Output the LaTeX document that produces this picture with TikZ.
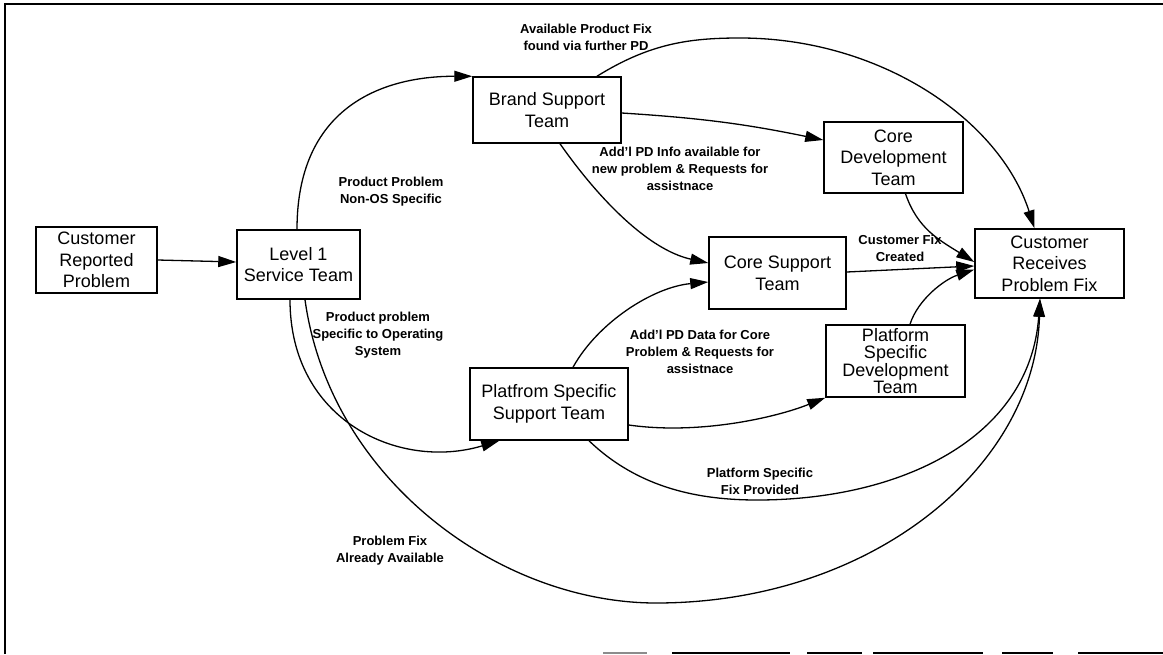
\documentclass[tikz,border=0pt]{standalone}
\usepackage{fontspec}
\setmainfont{Liberation Sans}
\usetikzlibrary{arrows.meta}
\tikzset{
  box/.style={draw, line width=1.5pt, align=center, inner sep=0pt,
    font=\fontsize{18}{21.7}\selectfont},
  lab/.style={align=center, inner sep=0pt,
    font=\bfseries\fontsize{13}{16.8}\selectfont},
  conn/.style={line width=1.3pt, -{Triangle[length=18pt,width=11pt]}},
  frameline/.style={line width=1.6pt},
}
\begin{document}
\begin{tikzpicture}[x=1pt,y=-1pt]
\useasboundingbox (0,0) rectangle (1163,654);
% frame
\draw[frameline] (5,654) -- (5,4) -- (1163,4);
\draw[line width=1.2pt, black!45] (603,653) -- (647,653);
\draw[line width=1.4pt] (672,653) -- (790,653) (807,653) -- (862,653)
  (873,653) -- (983,653) (1002,653) -- (1053,653) (1078,653) -- (1163,653);

% nodes
\node[box, minimum width=121pt, minimum height=66pt] (crp) at (96.5,260) {Customer\\Reported\\Problem};
\node[box, minimum width=123pt, minimum height=69pt] (l1) at (298.5,264.5) {Level 1\\Service Team};
\node[box, minimum width=148pt, minimum height=66pt] (brand) at (547,110) {Brand Support\\Team};
\node[box, minimum width=139pt, minimum height=71pt] (coredev) at (893.5,157.5) {Core\\Development\\Team};
\node[box, minimum width=137pt, minimum height=72pt] (coresup) at (777.5,273) {Core Support\\Team};
\node[box, minimum width=149pt, minimum height=69pt] (crpf) at (1049.5,263.5) {Customer\\Receives\\Problem Fix};
\node[box, minimum width=139pt, minimum height=72pt, font=\fontsize{18}{16.7}\selectfont] (psdev) at (895.5,361) {Platform\\Specific\\Development\\Team};
\node[box, minimum width=158pt, minimum height=72pt] (pssup) at (549,404) {Platfrom Specific\\Support Team};

% labels
\node[lab] (t1) at (586,37) {Available Product Fix\\found via further PD};
\node[lab] (t2) at (391,192) {Product Problem\\Non-OS Specific};
\node[lab] (t3) at (378,335) {Product problem\\Specific to Operating\\System};
\node[lab] (t4) at (390,551) {Problem Fix\\Already Available};
\node[lab] (t5) at (680,169) {Add'l PD Info available for\\new problem \& Requests for\\assistnace};
\node[lab] (t6) at (900,248) {Customer Fix\\Created};
\node[lab] (t7) at (700,352) {Add'l PD Data for Core\\Problem \& Requests for\\assistnace};
\node[lab] (t8) at (760,481) {Platform Specific\\Fix Provided};

% connectors
\draw[conn] (crp.east) -- ([yshift=2.5pt]l1.west);
\draw[conn] ([xshift=-1.5pt]l1.north) .. controls +(0,-120) and +(-93,0) .. (brand.north west);
\draw[conn] ([xshift=-8.5pt]l1.south) .. controls +(0,121) and +(-100,30) .. ([xshift=30pt]pssup.south west);
\draw[conn] ([xshift=6.5pt]l1.south) .. controls +(25,180) and (500,603) .. (656,603)
  .. controls (870,603) and +(-5,170) .. ([xshift=-9.5pt]crpf.south);
\draw[conn] ([yshift=-3pt]brand.east) to[bend left=4] ([yshift=17.5pt]coredev.west);
\draw[conn] ([xshift=13pt]brand.south) .. controls +(40,57) and +(-59,-13) .. ([yshift=10pt]coresup.west);
\draw[conn] ([xshift=50pt]brand.north) .. controls +(53,-33) and (690,38) .. (740,38)
  .. controls (880,38) and +(-35,-109) .. ([xshift=-15pt]crpf.north);
\draw[conn] ([xshift=12pt]coredev.south) .. controls +(12,35) and +(-35,-22) .. ([yshift=1.5pt]crpf.west);
\draw[conn] ([yshift=1pt]coresup.east) -- ([yshift=-2.5pt]crpf.west);
\draw[conn] ([xshift=14.5pt]psdev.north) .. controls +(8,-25) and +(-30,10) .. ([yshift=-6pt]crpf.west);
\draw[conn] ([xshift=24pt]pssup.north) .. controls +(25,-45) and +(-55,5) .. ([yshift=-9pt]coresup.west);
\draw[conn] ([yshift=-21pt]pssup.east) .. controls +(70,10) and +(-50,20) .. (psdev.south west);
\draw[conn] ([xshift=40pt]pssup.south) .. controls +(50,48) and (700,500) .. (757,500)
  .. controls (900,500) and +(-10,140) .. ([xshift=-9.5pt]crpf.south);
\end{tikzpicture}
\end{document}
